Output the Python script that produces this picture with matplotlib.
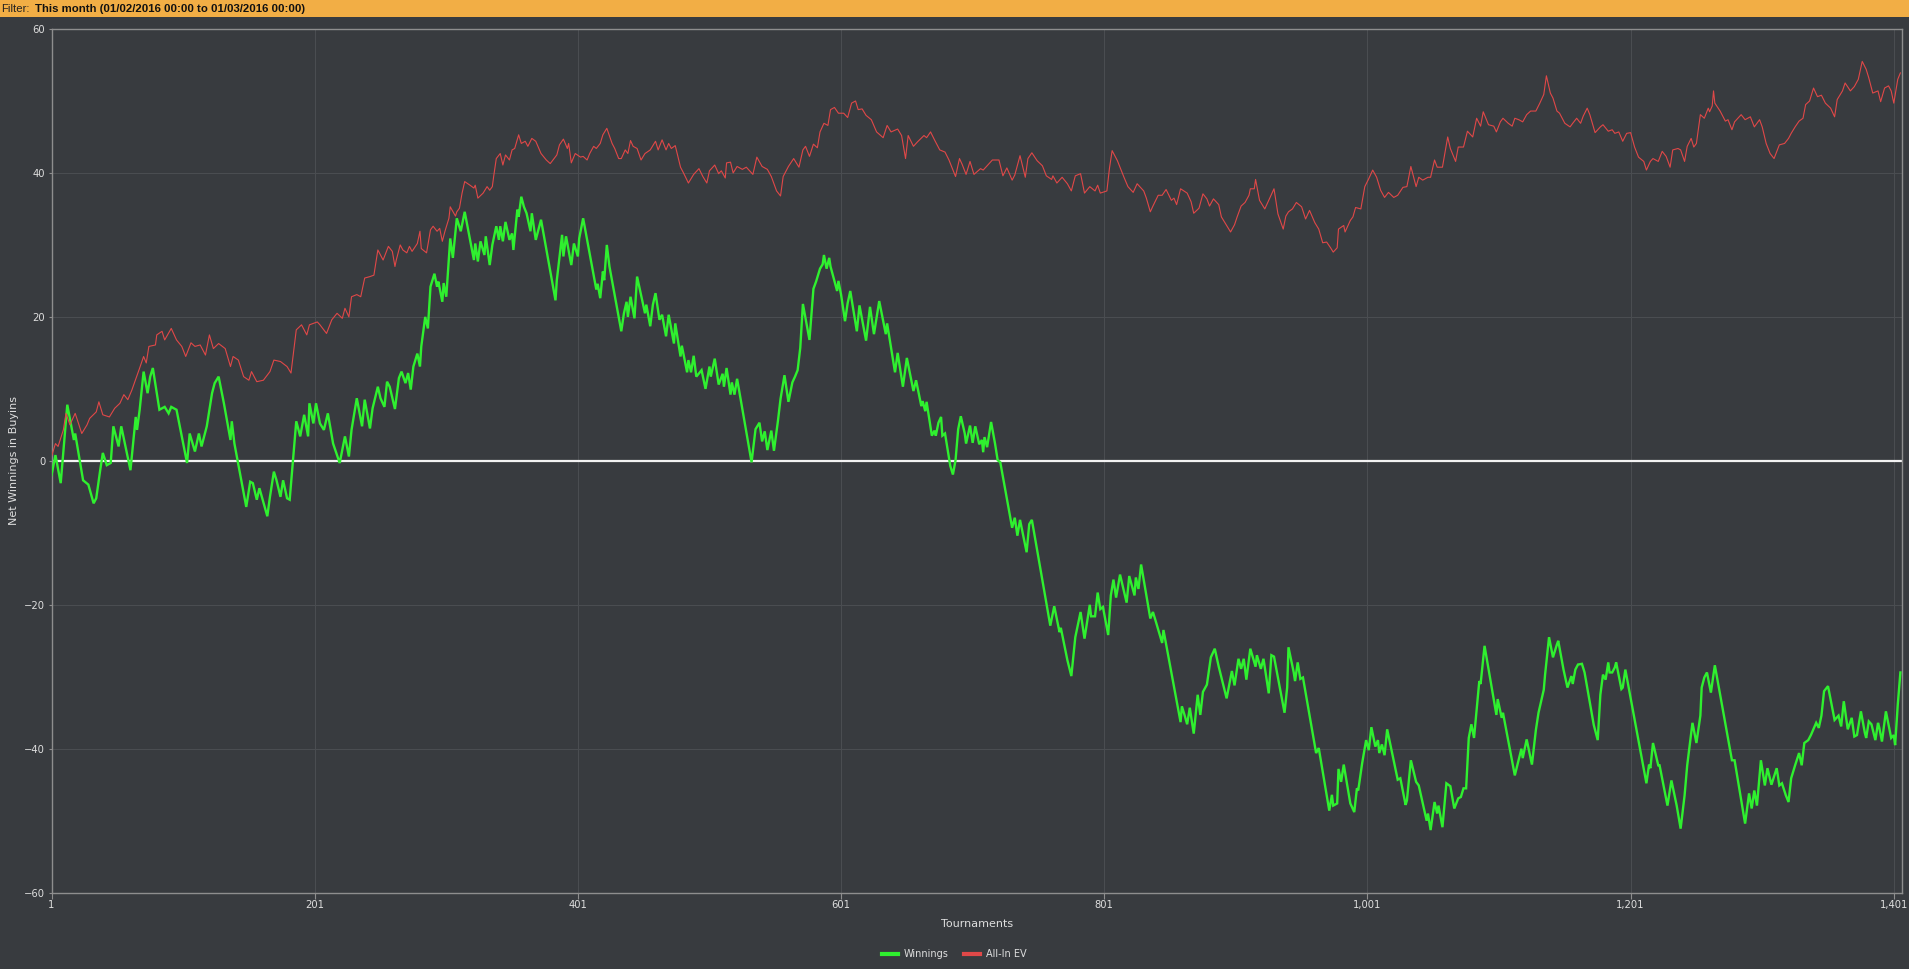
import matplotlib
matplotlib.use("Agg")
import matplotlib.pyplot as plt
from matplotlib.lines import Line2D
from matplotlib.patches import Rectangle
from matplotlib.ticker import FuncFormatter

BG = "#383b3f"
GRID = "#4b4e52"
SPINE = "#8e8e8e"
TXT = "#dedede"
GREEN = "#2ff02f"
RED = "#e04848"
ORANGE = "#f2ae45"

FILTER_TEXT = "This month (01/02/2016 00:00 to 01/03/2016 00:00)"

# cumulative winnings (buyins) at tournament numbers
win_t = [
    1, 4, 8, 13, 18, 19, 25, 29, 33, 35, 38, 40, 43, 46, 48, 52, 54, 61, 65, 66,
    68, 71, 74, 76, 78, 83, 87, 90, 92, 96, 104, 106, 110, 113, 115, 119, 123, 125, 128, 132,
    137, 138, 140, 149, 152, 154, 157, 159, 165, 167, 170, 172, 175, 177, 180, 182, 187, 190, 193, 196,
    197, 200, 202, 205, 208, 211, 215, 220, 224, 227, 229, 233, 237, 239, 243, 245, 249, 251, 254, 256,
    258, 262, 265, 267, 270, 272, 274, 276, 279, 281, 282, 285, 287, 289, 292, 294, 295, 298, 299, 301,
    304, 306, 309, 312, 315, 322, 323, 325, 327, 330, 331, 334, 336, 339, 341, 342, 344, 346, 349, 351,
    352, 355, 356, 358, 360, 362, 365, 366, 369, 373, 384, 385, 389, 390, 392, 396, 398, 401, 402, 405,
    415, 416, 418, 420, 421, 423, 425, 434, 436, 438, 439, 441, 444, 446, 452, 453, 456, 458, 460, 463,
    465, 468, 470, 474, 475, 479, 480, 484, 485, 487, 489, 491, 495, 498, 501, 502, 505, 508, 511, 512,
    514, 517, 518, 520, 522, 533, 536, 539, 541, 543, 545, 548, 550, 553, 555, 558, 561, 564, 566, 568,
    570, 572, 577, 580, 582, 585, 587, 588, 590, 592, 593, 598, 599, 601, 604, 606, 608, 613, 615, 620,
    623, 626, 630, 635, 636, 642, 644, 648, 651, 656, 658, 662, 663, 665, 666, 670, 672, 673, 675, 677,
    678, 680, 684, 686, 688, 690, 692, 695, 696, 699, 701, 703, 706, 708, 709, 710, 712, 715, 718, 720,
    722, 731, 733, 735, 737, 742, 744, 746, 760, 763, 767, 768, 773, 776, 779, 783, 786, 790, 791, 794,
    796, 798, 800, 804, 806, 808, 810, 813, 818, 820, 824, 825, 827, 829, 836, 838, 840, 845, 846, 859,
    860, 862, 864, 866, 869, 872, 874, 876, 879, 882, 885, 888, 894, 898, 900, 903, 905, 907, 909, 912,
    916, 917, 920, 922, 926, 928, 930, 938, 940, 941, 945, 946, 948, 950, 952, 962, 964, 972, 974, 975,
    978, 979, 981, 983, 988, 991, 993, 994, 997, 1000, 1002, 1004, 1007, 1009, 1010, 1012, 1014, 1016, 1024, 1026,
    1030, 1031, 1034, 1038, 1040, 1046, 1047, 1049, 1052, 1054, 1055, 1058, 1061, 1064, 1067, 1070, 1072, 1074, 1076, 1078,
    1080, 1082, 1086, 1087, 1090, 1099, 1100, 1103, 1104, 1113, 1115, 1118, 1119, 1122, 1126, 1129, 1131, 1135, 1136, 1139,
    1142, 1145, 1146, 1150, 1153, 1156, 1157, 1159, 1161, 1164, 1166, 1173, 1176, 1178, 1180, 1182, 1184, 1185, 1187, 1189,
    1190, 1194, 1195, 1197, 1213, 1215, 1216, 1218, 1222, 1223, 1229, 1232, 1236, 1239, 1242, 1244, 1248, 1251, 1254, 1255,
    1257, 1259, 1262, 1265, 1278, 1280, 1288, 1291, 1293, 1295, 1297, 1300, 1303, 1305, 1308, 1312, 1314, 1316, 1319, 1321,
    1323, 1326, 1329, 1331, 1333, 1336, 1338, 1342, 1344, 1346, 1348, 1351, 1356, 1359, 1361, 1363, 1366, 1369, 1371, 1373,
    1376, 1379, 1380, 1382, 1384, 1387, 1389, 1390, 1392, 1395, 1399, 1401, 1402, 1404, 1406,
]
win_v = [
    -2.0, 0.8, -3.1, 7.8, 2.9, 3.8, -2.7, -3.3, -5.9, -5.2, -1.3, 1.1, -0.6, -0.3, 4.8, 2.0, 4.8, -1.3, 6.1, 4.3,
    7.1, 12.4, 9.4, 11.7, 12.9, 7.1, 7.5, 6.6, 7.5, 7.1, -0.3, 3.8, 1.3, 3.8, 2.0, 4.8, 9.4, 10.8, 11.7, 8.0,
    2.9, 5.5, 2.4, -6.4, -2.9, -3.1, -5.4, -3.8, -7.7, -5.0, -1.5, -2.7, -5.0, -2.7, -5.2, -5.4, 5.5, 3.4, 6.4, 3.4,
    8.0, 5.2, 8.0, 5.2, 4.3, 6.6, 2.4, -0.3, 3.4, 0.6, 4.3, 8.7, 4.8, 8.5, 4.5, 7.3, 10.3, 8.7, 7.5, 11.0,
    10.3, 7.2, 11.5, 12.4, 10.8, 12.2, 9.9, 13.1, 14.9, 13.1, 15.9, 20.0, 18.4, 24.2, 26.0, 24.2, 24.9, 22.1, 24.7, 22.8,
    30.9, 28.2, 33.7, 31.9, 34.6, 27.9, 30.2, 27.7, 30.5, 28.6, 31.2, 27.2, 30.0, 32.6, 30.7, 32.6, 30.5, 33.2, 30.7, 31.6,
    29.3, 34.9, 33.9, 36.7, 35.3, 34.4, 31.9, 34.4, 30.7, 33.5, 22.3, 25.1, 31.4, 28.4, 31.2, 27.2, 30.2, 28.4, 30.9, 33.7,
    23.8, 24.6, 22.6, 26.3, 25.1, 30.0, 27.0, 18.0, 20.5, 22.1, 20.0, 22.8, 19.8, 25.6, 20.5, 21.7, 18.7, 21.7, 23.3, 19.6,
    20.3, 17.3, 20.3, 16.3, 19.1, 14.5, 16.0, 12.3, 14.0, 12.3, 14.6, 11.7, 12.6, 10.0, 13.1, 11.7, 14.2, 10.6, 12.1, 10.3,
    12.9, 9.2, 10.9, 9.2, 11.4, -0.2, 4.4, 5.3, 2.7, 4.1, 1.5, 4.2, 1.4, 5.5, 8.6, 11.9, 8.2, 10.9, 11.7, 12.6,
    15.7, 21.8, 16.8, 23.9, 24.9, 26.7, 27.3, 28.6, 26.7, 28.2, 27.0, 23.6, 25.0, 23.1, 19.4, 21.9, 23.6, 18.0, 21.6, 16.7,
    21.4, 17.6, 22.2, 17.6, 19.1, 12.3, 15.0, 10.3, 14.3, 9.7, 11.2, 7.6, 8.3, 6.9, 8.2, 3.5, 4.2, 3.5, 5.3, 6.1,
    3.5, 3.8, -0.7, -1.9, 0.1, 4.4, 6.2, 3.8, 2.4, 4.9, 2.5, 4.8, 2.3, 2.9, 1.2, 3.3, 1.9, 5.4, 2.4, 0.1,
    -0.2, -9.3, -7.9, -10.4, -8.2, -12.7, -8.8, -8.2, -22.9, -20.2, -23.8, -23.2, -27.7, -29.9, -24.5, -21.0, -24.7, -20.0, -21.6, -21.6,
    -18.3, -20.6, -20.3, -24.2, -18.7, -16.5, -19.0, -15.8, -19.7, -16.0, -18.7, -16.2, -17.8, -14.4, -21.9, -21.0, -22.2, -25.3, -23.5, -36.3,
    -34.1, -35.3, -36.6, -34.3, -37.9, -32.5, -35.3, -32.1, -31.1, -27.3, -26.1, -28.6, -33.0, -29.2, -31.2, -27.5, -28.9, -27.5, -30.4, -26.1,
    -28.6, -27.0, -28.9, -27.5, -32.3, -27.0, -27.2, -35.0, -31.5, -25.9, -29.4, -30.6, -28.0, -30.3, -30.1, -40.6, -39.9, -48.6, -46.4, -47.9,
    -47.6, -42.8, -44.6, -42.2, -47.6, -48.8, -45.5, -45.8, -42.0, -38.8, -40.2, -37.0, -39.7, -38.8, -40.6, -39.4, -40.9, -37.3, -44.3, -44.1,
    -47.8, -47.2, -41.6, -44.6, -45.1, -50.0, -49.0, -51.3, -47.4, -49.0, -47.9, -50.9, -44.8, -45.2, -48.3, -46.9, -46.7, -45.5, -45.5, -38.5,
    -36.6, -38.5, -30.6, -31.0, -25.7, -35.3, -33.1, -35.7, -35.0, -43.7, -42.2, -40.0, -41.3, -38.7, -42.2, -37.4, -35.0, -31.8, -29.7, -24.5,
    -27.3, -25.5, -25.0, -29.0, -31.5, -29.9, -31.0, -29.0, -28.3, -28.2, -29.4, -36.7, -38.8, -32.5, -29.7, -30.4, -28.0, -29.4, -29.4, -28.7,
    -28.0, -31.7, -31.5, -29.0, -44.8, -42.2, -42.7, -39.2, -42.3, -42.3, -47.9, -44.4, -47.9, -51.1, -46.5, -42.3, -36.4, -39.2, -35.4, -31.5,
    -30.1, -29.4, -32.2, -28.4, -41.6, -41.6, -50.4, -46.2, -48.3, -45.8, -47.9, -41.6, -45.1, -42.7, -45.0, -42.7, -45.1, -44.8, -46.5, -47.4,
    -44.1, -42.3, -40.6, -42.3, -39.2, -38.8, -38.1, -36.4, -37.1, -35.4, -32.0, -31.3, -36.0, -35.4, -36.9, -33.4, -37.3, -35.7, -38.3, -38.1,
    -34.8, -37.8, -38.5, -36.2, -36.6, -38.8, -36.4, -37.1, -39.0, -34.8, -38.5, -38.1, -39.5, -33.9, -29.4,
]

# all-in EV line
ev_t = [
    1, 4, 6, 10, 12, 15, 19, 24, 28, 30, 35, 37, 40, 45, 49, 53, 56, 59, 62, 68,
    71, 73, 75, 80, 81, 85, 87, 92, 96, 100, 103, 107, 110, 114, 118, 121, 124, 128, 133, 137,
    139, 143, 147, 151, 153, 157, 162, 167, 170, 175, 180, 183, 187, 191, 195, 197, 203, 205, 210, 214,
    218, 222, 224, 227, 229, 233, 236, 239, 243, 246, 249, 253, 257, 260, 262, 263, 266, 268, 271, 273,
    275, 279, 281, 282, 286, 289, 291, 294, 296, 298, 300, 303, 304, 308, 309, 311, 313, 315, 319, 322,
    323, 325, 329, 332, 334, 336, 337, 339, 342, 344, 346, 349, 351, 353, 356, 358, 361, 363, 366, 369,
    373, 377, 380, 385, 387, 390, 393, 394, 396, 399, 403, 405, 408, 410, 413, 415, 418, 420, 423, 427,
    429, 432, 434, 437, 439, 441, 443, 446, 449, 452, 456, 460, 462, 465, 468, 470, 472, 475, 477, 479,
    481, 485, 489, 493, 496, 499, 501, 505, 508, 510, 513, 514, 517, 519, 522, 526, 529, 534, 537, 541,
    545, 548, 552, 555, 557, 561, 565, 569, 572, 574, 577, 580, 583, 585, 588, 591, 593, 596, 599, 603,
    606, 609, 612, 614, 617, 620, 624, 628, 633, 636, 639, 644, 647, 650, 652, 656, 659, 664, 666, 669,
    672, 676, 680, 683, 688, 691, 693, 696, 699, 702, 707, 709, 712, 716, 721, 724, 727, 731, 733, 737,
    741, 743, 746, 750, 754, 757, 761, 762, 765, 769, 773, 776, 779, 783, 786, 790, 794, 796, 798, 803,
    805, 807, 811, 816, 819, 823, 826, 831, 833, 836, 838, 842, 845, 848, 852, 854, 856, 859, 864, 867,
    869, 873, 876, 879, 881, 884, 888, 890, 894, 897, 900, 902, 905, 908, 911, 912, 915, 916, 919, 923,
    926, 930, 933, 937, 939, 941, 944, 947, 951, 954, 957, 961, 964, 967, 970, 973, 975, 978, 979, 983,
    984, 988, 990, 992, 996, 999, 1002, 1005, 1008, 1011, 1014, 1017, 1021, 1024, 1028, 1031, 1034, 1038, 1040, 1043,
    1047, 1049, 1052, 1054, 1058, 1062, 1064, 1068, 1070, 1074, 1077, 1081, 1084, 1087, 1089, 1093, 1097, 1099, 1102, 1104,
    1108, 1111, 1113, 1116, 1119, 1122, 1125, 1129, 1132, 1135, 1137, 1140, 1142, 1145, 1147, 1151, 1155, 1157, 1160, 1163,
    1165, 1168, 1170, 1174, 1178, 1180, 1184, 1187, 1189, 1192, 1195, 1198, 1201, 1204, 1207, 1211, 1213, 1216, 1218, 1222,
    1225, 1228, 1231, 1233, 1237, 1239, 1242, 1244, 1247, 1249, 1251, 1254, 1257, 1260, 1261, 1263, 1264, 1265, 1269, 1273,
    1275, 1278, 1280, 1285, 1288, 1292, 1295, 1299, 1301, 1304, 1307, 1310, 1314, 1318, 1321, 1323, 1326, 1329, 1332, 1334,
    1337, 1340, 1343, 1346, 1349, 1353, 1356, 1358, 1362, 1364, 1368, 1371, 1374, 1377, 1380, 1382, 1385, 1389, 1391, 1394,
    1397, 1399, 1401, 1404, 1406,
]
ev_v = [
    0.6, 2.4, 2.0, 4.3, 6.6, 5.0, 6.6, 3.8, 5.0, 5.9, 6.8, 8.2, 6.4, 6.1, 7.3, 8.0, 9.2, 8.5, 9.8, 12.9,
    14.5, 13.6, 15.9, 16.1, 17.5, 18.0, 16.8, 18.4, 16.8, 15.9, 14.5, 16.4, 15.9, 16.1, 14.7, 17.5, 15.6, 16.3, 15.6, 13.1,
    14.5, 14.0, 11.7, 11.2, 12.4, 11.0, 11.2, 12.4, 14.0, 13.8, 13.1, 12.2, 18.2, 18.9, 17.5, 18.9, 19.3, 18.9, 17.7, 19.6,
    20.5, 19.8, 21.2, 20.0, 22.8, 23.1, 22.8, 25.4, 25.6, 25.8, 29.3, 27.9, 29.8, 29.1, 27.0, 27.9, 30.0, 29.3, 28.9, 29.8,
    29.1, 30.2, 31.9, 29.5, 28.9, 32.1, 32.6, 31.9, 32.3, 30.5, 31.9, 33.7, 35.3, 34.0, 34.6, 35.1, 37.2, 38.8, 38.3, 37.9,
    38.3, 36.5, 37.2, 38.1, 37.6, 38.1, 39.5, 42.0, 42.7, 41.1, 42.5, 41.8, 43.2, 43.4, 45.3, 44.1, 44.4, 43.7, 44.8, 44.4,
    42.7, 41.8, 41.3, 42.5, 43.9, 44.7, 43.4, 44.1, 41.4, 42.7, 42.2, 42.3, 41.8, 42.7, 43.7, 43.4, 44.1, 45.3, 46.2, 44.1,
    43.4, 42.0, 42.0, 43.2, 42.7, 44.5, 43.7, 43.4, 41.8, 42.7, 43.2, 44.4, 43.2, 44.6, 43.2, 44.1, 43.4, 43.8, 42.3, 40.8,
    40.1, 38.6, 39.8, 40.6, 39.5, 38.6, 40.3, 41.1, 39.9, 40.3, 39.3, 41.4, 41.5, 40.0, 40.9, 40.5, 40.8, 39.8, 42.2, 40.9,
    40.5, 39.5, 37.5, 36.8, 39.5, 40.9, 42.0, 40.8, 43.2, 43.7, 42.3, 44.0, 43.5, 45.7, 46.9, 46.6, 48.8, 49.1, 48.3, 48.3,
    47.7, 49.7, 50.0, 48.8, 48.9, 48.0, 47.4, 45.7, 44.9, 46.6, 45.7, 46.1, 45.2, 42.0, 45.2, 43.7, 44.3, 45.2, 44.9, 45.7,
    44.6, 43.2, 42.9, 41.8, 39.5, 42.0, 41.2, 39.8, 41.6, 39.8, 40.6, 40.4, 41.0, 41.8, 41.8, 39.6, 40.7, 39.0, 39.7, 42.4,
    39.4, 42.0, 42.8, 41.7, 41.0, 39.6, 39.1, 39.6, 38.6, 39.4, 38.5, 37.5, 39.6, 39.9, 37.2, 38.1, 37.5, 38.3, 37.2, 37.5,
    40.7, 43.1, 41.7, 39.4, 38.1, 37.3, 38.5, 37.5, 36.5, 34.6, 35.4, 36.9, 36.9, 37.7, 36.2, 36.5, 35.6, 37.8, 37.2, 36.0,
    34.4, 35.1, 37.1, 36.4, 35.4, 36.4, 35.6, 33.9, 32.7, 31.8, 32.8, 33.9, 35.4, 35.9, 36.9, 37.8, 37.8, 39.1, 36.2, 35.0,
    36.2, 37.8, 34.3, 32.2, 34.0, 34.6, 35.0, 35.9, 35.3, 33.6, 34.8, 33.1, 32.2, 30.3, 30.4, 29.6, 29.0, 29.6, 32.2, 32.7,
    31.8, 33.4, 33.9, 35.2, 35.0, 38.1, 39.2, 40.4, 39.4, 37.6, 36.6, 37.3, 36.6, 36.9, 38.0, 38.1, 40.9, 38.1, 39.4, 39.0,
    39.4, 39.4, 41.8, 40.8, 40.8, 45.0, 43.4, 41.6, 43.6, 43.6, 45.8, 45.0, 47.6, 46.5, 48.5, 46.7, 46.5, 45.7, 47.1, 47.6,
    46.9, 46.5, 47.6, 47.4, 47.1, 48.1, 48.6, 48.6, 49.7, 50.9, 53.5, 51.1, 50.4, 48.6, 48.3, 46.9, 46.4, 46.9, 47.6, 46.9,
    47.9, 49.0, 48.1, 45.6, 46.4, 46.7, 45.8, 46.0, 45.5, 45.7, 44.4, 45.5, 45.6, 43.6, 42.2, 41.6, 40.4, 41.6, 42.0, 41.6,
    43.0, 42.3, 40.8, 43.2, 43.4, 43.2, 41.6, 43.7, 44.8, 43.6, 44.1, 48.1, 47.6, 49.0, 48.5, 49.3, 51.4, 49.7, 48.6, 47.2,
    47.4, 46.0, 47.1, 48.1, 47.4, 47.8, 46.4, 47.4, 46.4, 44.1, 42.7, 42.0, 43.9, 44.1, 44.8, 45.5, 46.4, 47.2, 47.6, 49.5,
    50.0, 51.8, 50.6, 50.8, 49.7, 49.0, 47.8, 50.2, 51.4, 52.5, 51.4, 52.0, 53.0, 55.5, 54.4, 53.2, 51.1, 51.4, 49.9, 51.8,
    52.1, 51.4, 49.7, 53.0, 53.9,
]

x_ticks = [1, 201, 401, 601, 801, 1001, 1201, 1401]
y_ticks = [-60, -40, -20, 0, 20, 40, 60]


W, H = 1909, 969
fig = plt.figure(figsize=(W / 100, H / 100), dpi=100, facecolor=BG)

# filter bar on top
fig.patches.append(Rectangle((0, 1 - 17 / H), 1, 17 / H, transform=fig.transFigure,
                             facecolor=ORANGE, edgecolor="none", zorder=0))
fig.text(1 / W, 1 - 9 / H, "Filter:", fontsize=8.2, color="#222222", va="center",
         family="Liberation Sans")
fig.text(35 / W, 1 - 9 / H, FILTER_TEXT, fontsize=8.2, color="#111111", va="center",
         fontweight="bold", family="Liberation Sans")

ax = fig.add_axes([51.5 / W, 1 - 892.7 / H, 1850.2 / W, 863.7 / H])
ax.set_facecolor(BG)

ax.plot(win_t, win_v, color=GREEN, lw=1.7, zorder=3, solid_joinstyle="miter")
ax.plot(ev_t, ev_v, color=RED, lw=0.8, zorder=3)
ax.axhline(0, color="#f2f2f2", lw=1.6, zorder=2)

ax.set_xlim(1, 1407)
ax.set_ylim(-60, 60)
ax.set_xticks(x_ticks)
ax.set_yticks(y_ticks)
ax.xaxis.set_major_formatter(FuncFormatter(lambda v, p: f"{int(v):,}"))
ax.grid(True, color=GRID, lw=0.7, zorder=1)
ax.tick_params(axis="both", colors=SPINE, labelcolor=TXT, labelsize=7.2, width=0.8)
ax.tick_params(axis="x", length=4.5, pad=1)
ax.tick_params(axis="y", length=2.5, pad=2)
for sp in ax.spines.values():
    sp.set_color(SPINE)
    sp.set_linewidth(1.0)

ax.set_xlabel("Tournaments", fontsize=8, color=TXT, labelpad=6)
ax.set_ylabel("Net Winnings in Buyins", fontsize=8, color=TXT, labelpad=4)

handles = [Line2D([], [], color=GREEN, lw=3, label="Winnings"),
           Line2D([], [], color=RED, lw=3, label="All-In EV")]
fig.legend(handles=handles, loc="center", bbox_to_anchor=(0.5, 1 - 954 / H), ncol=2,
           frameon=False, fontsize=7, labelcolor=TXT, handlelength=1.65,
           handletextpad=0.6, columnspacing=1.6)

fig.savefig("out.png", dpi=100, facecolor=BG)
